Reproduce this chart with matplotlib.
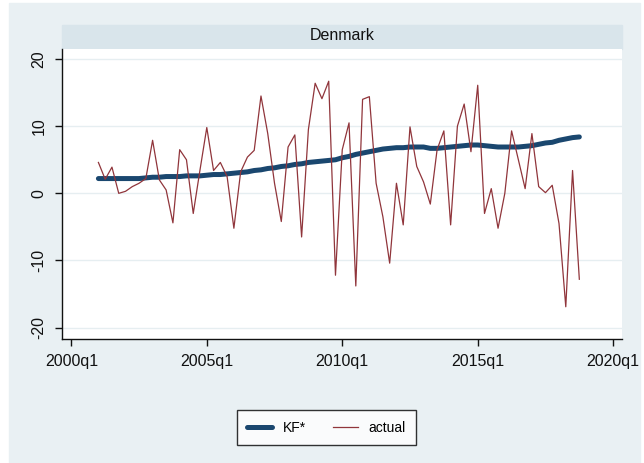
import numpy as np
import pandas as pd
import matplotlib
matplotlib.use("Agg")
import matplotlib.pyplot as plt
from matplotlib.patches import Rectangle

plt.rcParams['font.family'] = ['Liberation Sans', 'DejaVu Sans']

# quarterly data, 2001q1 - 2018q4
quarters = pd.period_range('2001Q1', '2018Q4', freq='Q')

kf_star = [2.2, 2.2, 2.2, 2.2, 2.2, 2.2, 2.2, 2.3,
           2.4, 2.4, 2.5, 2.5, 2.5, 2.6, 2.6,
           2.6, 2.7, 2.8, 2.8, 2.9, 3.0,
           3.1, 3.2, 3.4, 3.5, 3.7,
           3.8, 4.0, 4.1, 4.3, 4.4,
           4.6, 4.7, 4.8, 4.9, 5.0,
           5.3, 5.5, 5.8, 6.0, 6.2,
           6.4, 6.6, 6.7, 6.8, 6.8, 6.9,
           6.9, 6.9, 6.7, 6.7, 6.8,
           6.9, 7.0, 7.1, 7.2, 7.2,
           7.1, 7.0, 6.9, 6.9, 6.9, 6.9,
           7.0, 7.1, 7.3, 7.5, 7.6,
           7.9, 8.1, 8.3, 8.4]

actual = [4.6, 2.1, 3.9, 0.0, 0.3, 1.0, 1.5, 2.2,
          7.9, 2.0, 0.5, -4.4, 6.5, 5.0, -3.0, 3.5,
          9.8, 3.4, 4.6, 2.5, -5.2, 3.2, 5.4, 6.4,
          14.5, 8.9, 1.5, -4.2, 6.9, 8.7, -6.5, 9.5,
          16.4, 14.1, 16.7, -12.2, 6.5, 10.5, -13.8, 14.0,
          14.4, 1.5, -3.5, -10.4, 1.5, -4.7, 9.9, 4.0,
          1.7, -1.6, 6.5, 9.3, -4.7, 10.0, 13.3, 6.2,
          16.1, -3.0, 0.7, -5.2, 0.0, 9.3, 5.0, 0.7,
          8.9, 1.0, 0.1, 1.2, -4.5, -16.9, 3.4, -12.8]

tick_years = [2000, 2005, 2010, 2015, 2020]
tick_labels = ['2000q1', '2005q1', '2010q1', '2015q1', '2020q1']
y_ticks = [-20, -10, 0, 10, 20]

# quarter index, 2000q1 = 0
x = (quarters.year - 2000) * 4 + quarters.quarter - 1
xt = [(y - 2000) * 4 for y in tick_years]

W, H = 644, 463
fig = plt.figure(figsize=(W / 100, H / 100), dpi=100, facecolor='white')
fig.patches.append(Rectangle((9 / W, 0), (640 - 9) / W, 1 - 3 / H,
                             transform=fig.transFigure, color='#e9f0f3', zorder=-10))

left, right, top, bottom = 61.7, 622, 49, 339
ax = fig.add_axes([left / W, 1 - bottom / H, (right - left) / W, (bottom - top) / H])
ax.set_zorder(1)
ax.set_facecolor('white')

# title strip
fig.patches.append(Rectangle((left / W, 1 - top / H), (right - left) / W, 24 / H,
                             transform=fig.transFigure, color='#d9e5eb', zorder=-5))
fig.text((left + right) / 2 / W, 1 - 36 / H, 'Denmark', ha='center', va='center',
         fontsize=11.5, color='#111111')

ax.plot(x, kf_star, color='#1a476f', lw=3.6, solid_capstyle='round', label='KF*')
ax.plot(x, actual, color='#90353b', lw=0.9, label='actual')

ax.set_xlim(-1.42, 81.3)
ax.set_ylim(-21.7, 21.5)
ax.set_xticks(xt)
ax.set_xticklabels(tick_labels)
ax.set_yticks(y_ticks)
ax.set_yticklabels([str(v) for v in y_ticks], rotation=90, va='center')
ax.tick_params(axis='both', labelsize=11.5, length=5, width=1, colors='#111111')
ax.tick_params(axis='x', pad=6)
ax.tick_params(axis='y', pad=6)
ax.grid(axis='y', color='#e6eef1', lw=1)
ax.set_axisbelow(True)
for s in ['top', 'right']:
    ax.spines[s].set_visible(False)
for s in ['left', 'bottom']:
    ax.spines[s].set_color('#111111')
    ax.spines[s].set_linewidth(1)

leg = fig.legend(loc='center', bbox_to_anchor=(326.5 / W, 1 - 427.5 / H), ncol=2,
                 fontsize=10, frameon=True, fancybox=False, edgecolor='black',
                 handlelength=1.8, columnspacing=2.0, borderpad=0.75, handletextpad=0.75)
leg.get_frame().set_linewidth(1)

fig.savefig('out.png', dpi=100, facecolor=fig.get_facecolor())
